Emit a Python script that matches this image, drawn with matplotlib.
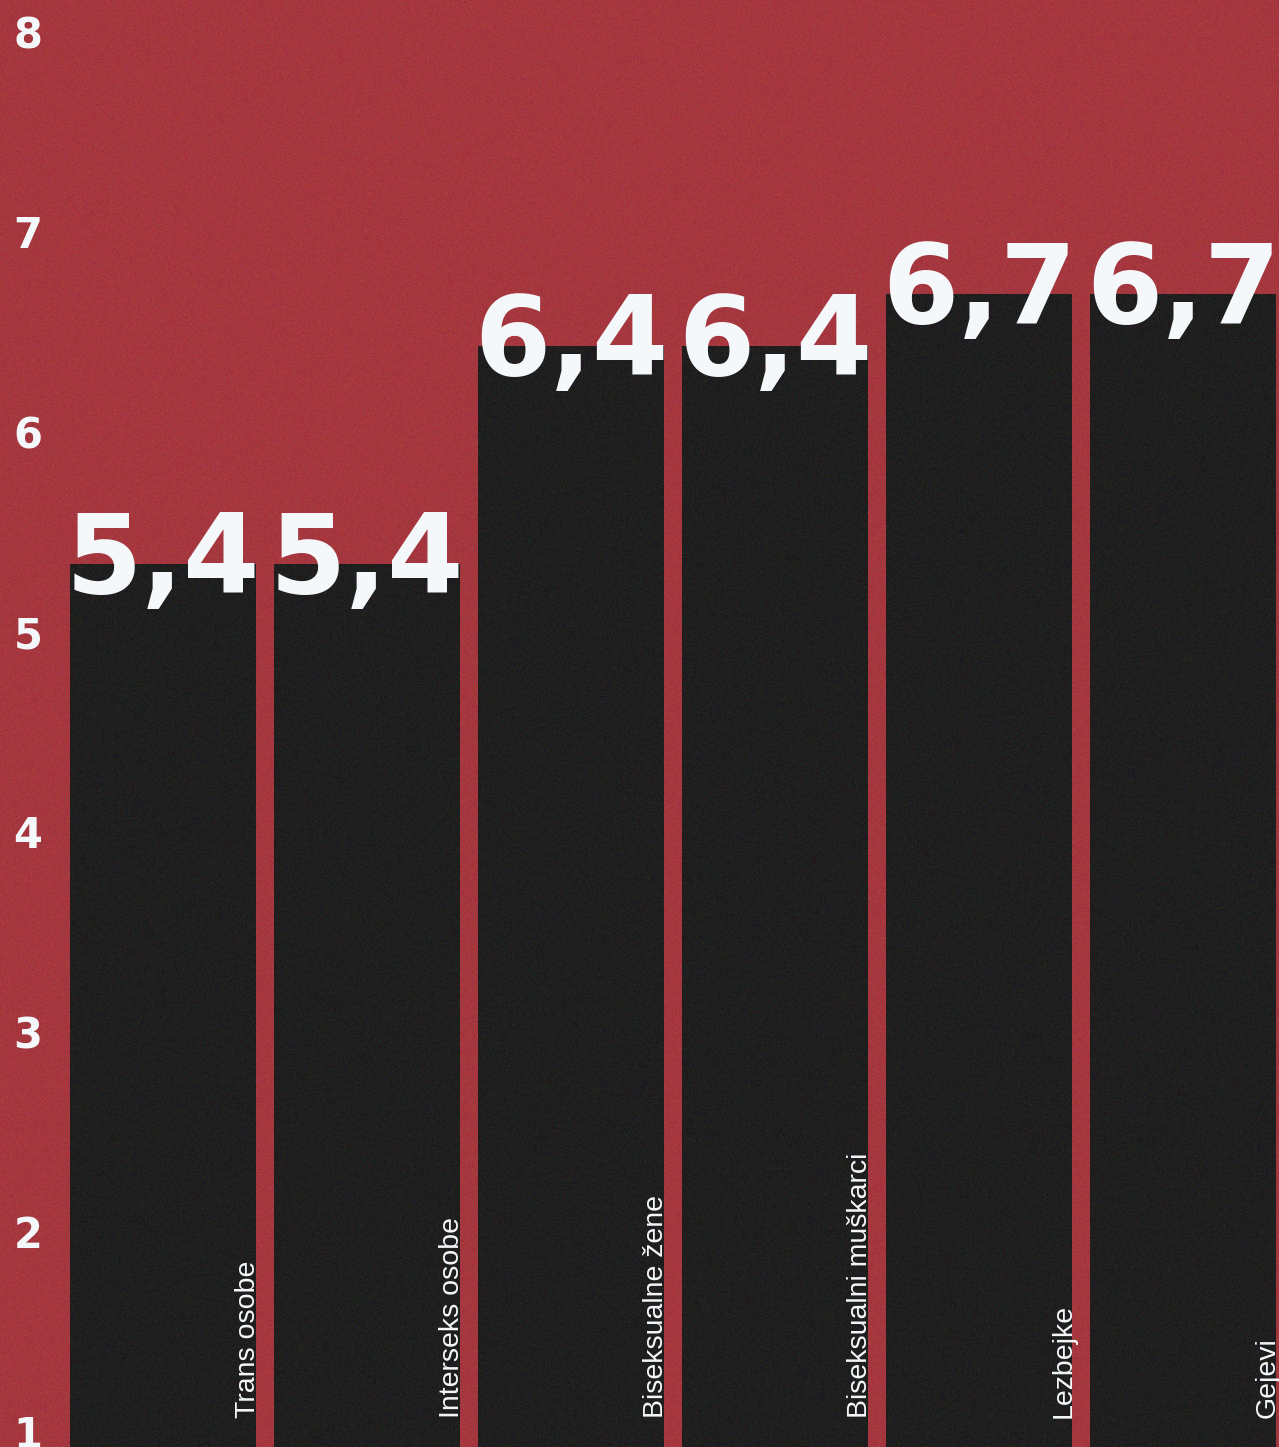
import numpy as np
import matplotlib
matplotlib.use("Agg")
import matplotlib.pyplot as plt

# ---- data ----
categories = ["Trans osobe", "Interseks osobe", "Biseksualne žene",
              "Biseksualni muškarci", "Lezbejke", "Gejevi"]
values = [5.34, 5.34, 6.43, 6.43, 6.69, 6.69]
value_labels = ["5,4", "5,4", "6,4", "6,4", "6,7", "6,7"]
yticks = [1, 2, 3, 4, 5, 6, 7, 8]
ytick_labels = ["1", "2", "3", "4", "5", "6", "7", "8"]

BG = "#a8323a"
BAR = "#181818"
WHITE = "#f5f8fa"

W, H = 1279, 1447
fig = plt.figure(figsize=(W / 100, H / 100), dpi=100, facecolor=BG)
ax = fig.add_axes([0, 0, 1, 1], facecolor=BG)

x = np.arange(len(categories))
bar_w = 186 / 204
ax.bar(x, np.array(values) - 0.5, bottom=0.5, width=bar_w, color=BAR, zorder=2)

xlim = (-163 / 204, (W - 163) / 204)
ylim = (1 - 15 / 200, 8 + 32 / 200)

# grain texture (decorative)
rng = np.random.default_rng(3)
noise = rng.random((H, W, 3))
rgba = np.zeros((H, W, 4))
rgba[..., :3] = noise
rgba[..., 3] = 0.07
ax.imshow(rgba, extent=(*xlim, *ylim), aspect="auto",
          zorder=2.2, interpolation="nearest")
ax.set_xlim(*xlim)
ax.set_ylim(*ylim)

# y tick labels inside the axes
ax.set_axisbelow(False)
ax.set_yticks(yticks)
ax.set_yticklabels(ytick_labels, fontfamily="DejaVu Sans", fontweight="bold",
                   fontsize=30, color=WHITE)
ax.tick_params(axis="y", length=0, pad=-30.5)
for lab in ax.get_yticklabels():
    lab.set_horizontalalignment("right")
ax.set_xticks([])
for s in ax.spines.values():
    s.set_visible(False)

# value labels
for xi, v, t in zip(x, values, value_labels):
    ax.annotate(t, (xi, v), xytext=(0, -21), textcoords="offset points",
                ha="center", va="baseline", fontfamily="DejaVu Sans",
                fontweight="bold", fontsize=79, color=WHITE, zorder=4)

# category labels (rotated, at right edge of each bar)
for xi, c in zip(x, categories):
    ax.annotate(c, (xi + bar_w / 2, 1), xytext=(-1, 10),
                textcoords="offset points", rotation=90,
                rotation_mode="anchor", ha="left", va="baseline",
                fontfamily="Liberation Sans", fontsize=20.5, color=WHITE,
                zorder=4)

fig.savefig("out.png", dpi=100, facecolor=BG)
